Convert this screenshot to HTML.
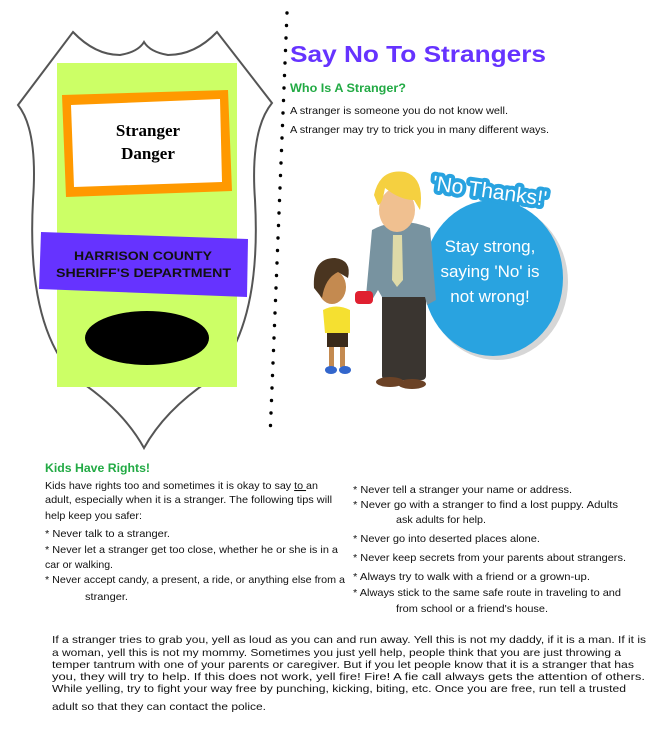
<!DOCTYPE html>
<html><head><meta charset="utf-8"><style>
html,body{margin:0;padding:0;background:#fff;width:666px;height:750px;overflow:hidden}
svg{display:block}
.t{font-family:"Liberation Sans",sans-serif;font-size:10.5px;fill:#111}
</style></head><body>
<svg width="666" height="750" viewBox="0 0 666 750" xmlns="http://www.w3.org/2000/svg">
<!-- Badge -->
<path d="M18,105 L73,32 Q95,55 120,55 Q138,52 144,42 Q150,52 168,55 Q195,55 217,32 L272,103 Q250,130 255,200 Q262,330 210,380 Q165,410 144,448 Q123,410 78,380 Q26,330 33,200 Q38,130 18,105 Z" fill="#fff" stroke="#555" stroke-width="2"/>
<rect x="57" y="63" width="180" height="324" fill="#ccff66"/>
<polygon points="62,95 228,90 232,191 66,197" fill="#ff9900"/>
<polygon points="71,105 220,99 222,182 74,187" fill="#fff"/>
<text x="148" y="136" text-anchor="middle" font-family="Liberation Serif,serif" font-weight="bold" font-size="17" fill="#000">Stranger</text>
<text x="148" y="159" text-anchor="middle" font-family="Liberation Serif,serif" font-weight="bold" font-size="17" fill="#000">Danger</text>
<polygon points="41,232 248,239 247,297 39,289" fill="#6633ff"/>
<text x="74" y="260" textLength="138" lengthAdjust="spacingAndGlyphs" font-family="Liberation Sans,sans-serif" font-weight="bold" font-size="12" fill="#111">HARRISON COUNTY</text>
<text x="56" y="277" textLength="175" lengthAdjust="spacingAndGlyphs" font-family="Liberation Sans,sans-serif" font-weight="bold" font-size="12" fill="#111">SHERIFF'S DEPARTMENT</text>
<ellipse cx="147" cy="338" rx="62" ry="27" fill="#000"/>
<!-- Title -->
<text x="290" y="62" textLength="256" lengthAdjust="spacingAndGlyphs" font-family="Liberation Sans,sans-serif" font-weight="bold" font-size="23" fill="#6633ff">Say No To Strangers</text>
<text x="290" y="92" textLength="116" lengthAdjust="spacingAndGlyphs" font-family="Liberation Sans,sans-serif" font-weight="bold" font-size="11.5" fill="#22aa44">Who Is A Stranger?</text>
<text class="t" x="290" y="114" textLength="218" lengthAdjust="spacingAndGlyphs">A stranger is someone you do not know well.</text>
<text class="t" x="290" y="133" textLength="259" lengthAdjust="spacingAndGlyphs">A stranger may try to trick you in many different ways.</text>
<!-- Illustration -->
<ellipse cx="497" cy="282" rx="71" ry="78" fill="#bbb" opacity="0.6"/>
<ellipse cx="493" cy="278" rx="70" ry="78" fill="#29a3e0"/>
<text x="490" y="198" text-anchor="middle" font-family="Liberation Sans,sans-serif" font-size="21" fill="#fff" stroke="#29a3e0" stroke-width="8" stroke-linejoin="round" paint-order="stroke" transform="rotate(8 490 190)">'No Thanks!'</text>
<text x="490" y="252" text-anchor="middle" font-family="Liberation Sans,sans-serif" font-size="17" fill="#fff">Stay strong,</text>
<text x="490" y="277" text-anchor="middle" font-family="Liberation Sans,sans-serif" font-size="17" fill="#fff">saying 'No' is</text>
<text x="490" y="302" text-anchor="middle" font-family="Liberation Sans,sans-serif" font-size="17" fill="#fff">not wrong!</text>
<!-- man -->
<rect x="382" y="293" width="44" height="87" rx="4" fill="#3a3530"/>
<ellipse cx="390" cy="382" rx="14" ry="5" fill="#6b4226"/>
<ellipse cx="412" cy="384" rx="14" ry="5" fill="#6b4226"/>
<path d="M372,230 Q400,215 430,228 L436,300 L427,305 L425,297 L382,297 L378,290 L372,300 L366,296 Z" fill="#7893a0"/>
<polygon points="393,235 402,235 403,280 397,287 392,280" fill="#dedaa8"/>
<ellipse cx="397" cy="210" rx="18" ry="22" fill="#f0c090"/>
<path d="M374,195 Q380,168 405,172 Q425,178 420,210 L414,200 Q400,200 385,188 Q382,205 378,205 Z" fill="#f5d040"/>
<!-- boy -->
<rect x="329" y="345" width="5" height="22" fill="#c48a50"/>
<rect x="340" y="345" width="5" height="22" fill="#c48a50"/>
<ellipse cx="331" cy="370" rx="6" ry="4" fill="#3366cc"/>
<ellipse cx="345" cy="370" rx="6" ry="4" fill="#3366cc"/>
<rect x="327" y="328" width="21" height="19" fill="#3a2a1a"/>
<path d="M323,310 Q336,303 350,310 L350,333 L325,333 Z" fill="#f5e030"/>
<ellipse cx="332" cy="287" rx="14" ry="17" fill="#c48a50"/>
<path d="M314,288 Q312,258 335,258 Q352,260 348,278 L338,272 Q325,278 322,298 Z" fill="#4a3520"/>
<rect x="355" y="291" width="18" height="13" rx="4" fill="#e02030"/>
<!-- Kids have rights -->
<text x="45" y="472" textLength="105" lengthAdjust="spacingAndGlyphs" font-family="Liberation Sans,sans-serif" font-weight="bold" font-size="11.5" fill="#22aa44">Kids Have Rights!</text>
<text class="t" x="45" y="489" textLength="273" lengthAdjust="spacingAndGlyphs">Kids have rights too and sometimes it is okay to say <tspan text-decoration="underline">to </tspan>an</text>
<text class="t" x="45" y="503" textLength="287" lengthAdjust="spacingAndGlyphs">adult, especially when it is a stranger.  The following tips will</text>
<text class="t" x="45" y="519" textLength="97" lengthAdjust="spacingAndGlyphs">help keep you safer:</text>
<text class="t" x="45" y="537" textLength="125" lengthAdjust="spacingAndGlyphs">* Never talk to a stranger.</text>
<text class="t" x="45" y="553" textLength="293" lengthAdjust="spacingAndGlyphs">* Never let a stranger get too close, whether he or she is in a</text>
<text class="t" x="45" y="568" textLength="68" lengthAdjust="spacingAndGlyphs">car or walking.</text>
<text class="t" x="45" y="583" textLength="300" lengthAdjust="spacingAndGlyphs">* Never accept candy, a present, a ride, or anything else from a</text>
<text class="t" x="85" y="600" textLength="43" lengthAdjust="spacingAndGlyphs">stranger.</text>
<text class="t" x="353" y="493" textLength="219" lengthAdjust="spacingAndGlyphs">* Never tell a stranger your name or address.</text>
<text class="t" x="353" y="508" textLength="265" lengthAdjust="spacingAndGlyphs">* Never go with a stranger to find a lost puppy.  Adults</text>
<text class="t" x="396" y="523" textLength="90" lengthAdjust="spacingAndGlyphs">ask adults for help.</text>
<text class="t" x="353" y="542" textLength="187" lengthAdjust="spacingAndGlyphs">* Never go into deserted places alone.</text>
<text class="t" x="353" y="561" textLength="273" lengthAdjust="spacingAndGlyphs">* Never keep secrets from your parents about strangers.</text>
<text class="t" x="353" y="580" textLength="237" lengthAdjust="spacingAndGlyphs">* Always try to walk with a friend or a grown-up.</text>
<text class="t" x="353" y="596" textLength="268" lengthAdjust="spacingAndGlyphs">* Always stick to the same safe route in traveling to and</text>
<text class="t" x="396" y="612" textLength="152" lengthAdjust="spacingAndGlyphs">from school or a friend's house.</text>
<!-- bottom paragraph -->
<text class="t" x="52" y="643" textLength="594" lengthAdjust="spacingAndGlyphs">If a stranger tries to grab you, yell as loud as you can and run away.  Yell this is not my daddy, if it is a man.  If it is</text>
<text class="t" x="52" y="656" textLength="569" lengthAdjust="spacingAndGlyphs">a woman, yell this is not my mommy.  Sometimes you just yell help, people think that you are just throwing a</text>
<text class="t" x="52" y="668" textLength="582" lengthAdjust="spacingAndGlyphs">temper tantrum with one of your parents or caregiver.  But if you let people know that it is a stranger that has</text>
<text class="t" x="52" y="680" textLength="593" lengthAdjust="spacingAndGlyphs">you, they will try to help.  If this does not work, yell fire! Fire!  A fie call always gets the attention of others.</text>
<text class="t" x="52" y="692" textLength="574" lengthAdjust="spacingAndGlyphs">While  yelling, try to fight your way free by punching, kicking, biting, etc.  Once you are free, run tell a trusted</text>
<text class="t" x="52" y="710" textLength="214" lengthAdjust="spacingAndGlyphs">adult so that they can contact the police.</text>
<g fill="#000">
<circle cx="287" cy="13" r="1.7"/><circle cx="286.5" cy="25.5" r="1.7"/><circle cx="286" cy="38" r="1.7"/><circle cx="285.5" cy="50.5" r="1.7"/><circle cx="285" cy="63" r="1.7"/><circle cx="284.5" cy="75.5" r="1.7"/><circle cx="284" cy="88" r="1.7"/><circle cx="283.5" cy="100.5" r="1.7"/><circle cx="283" cy="113" r="1.7"/><circle cx="282.5" cy="125.5" r="1.7"/><circle cx="282" cy="138" r="1.7"/><circle cx="281.5" cy="150.5" r="1.7"/><circle cx="281" cy="163" r="1.7"/><circle cx="280.5" cy="175.5" r="1.7"/><circle cx="280" cy="188" r="1.7"/><circle cx="279.5" cy="200.5" r="1.7"/><circle cx="279" cy="213" r="1.7"/><circle cx="278.5" cy="225.5" r="1.7"/><circle cx="278" cy="238" r="1.7"/><circle cx="277.5" cy="250.5" r="1.7"/><circle cx="277" cy="263" r="1.7"/><circle cx="276.5" cy="275.5" r="1.7"/><circle cx="276" cy="288" r="1.7"/><circle cx="275.5" cy="300.5" r="1.7"/><circle cx="275" cy="313" r="1.7"/><circle cx="274.5" cy="325.5" r="1.7"/><circle cx="274" cy="338" r="1.7"/><circle cx="273.5" cy="350.5" r="1.7"/><circle cx="273" cy="363" r="1.7"/><circle cx="272.5" cy="375.5" r="1.7"/><circle cx="272" cy="388" r="1.7"/><circle cx="271.5" cy="400.5" r="1.7"/><circle cx="271" cy="413" r="1.7"/><circle cx="270.5" cy="425.5" r="1.7"/>
</g>
</svg>
</body></html>
